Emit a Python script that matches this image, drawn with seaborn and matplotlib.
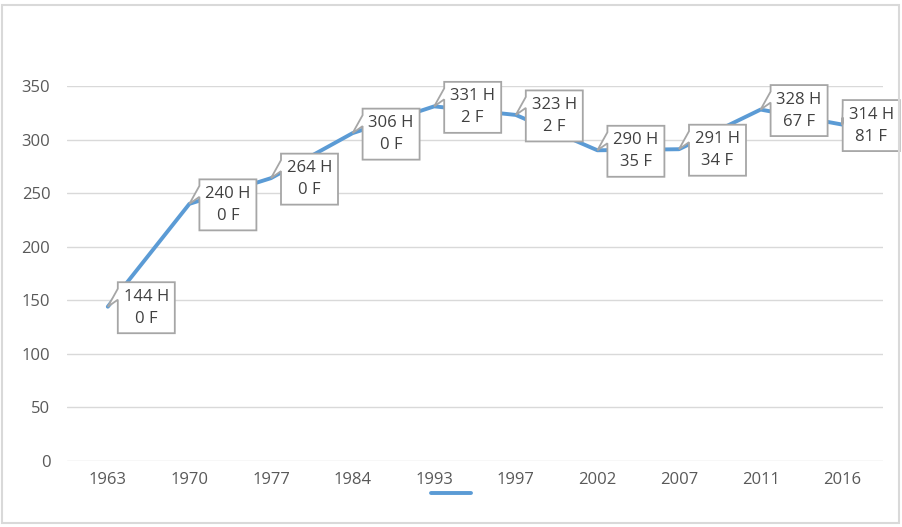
import numpy as np
import pandas as pd
import matplotlib
matplotlib.use("Agg")
import matplotlib.pyplot as plt
import seaborn as sns
from matplotlib.patches import Rectangle, Polygon
from matplotlib.transforms import Affine2D, ScaledTranslation

years = ["1963", "1970", "1977", "1984", "1993", "1997", "2002", "2007", "2011", "2016"]
hommes = [144, 240, 264, 306, 331, 323, 290, 291, 328, 314]
femmes = [0, 0, 0, 0, 2, 2, 35, 34, 67, 81]

df = pd.DataFrame({"year": years, "h": hommes, "f": femmes})
df["pos"] = np.arange(len(df))

sns.set_theme(style="white")
plt.rcParams["font.family"] = ["Open Sans", "DejaVu Sans"]

blue = "#5B9BD5"
grey_txt = "#595959"
grid_c = "#d9d9d9"
box_c = "#a6a6a6"

fig = plt.figure(figsize=(9.02, 5.27), dpi=100)
ax = fig.add_axes([67 / 902, 1 - 461 / 527, (883 - 67) / 902, (461 - 86) / 527])

sns.lineplot(data=df, x="pos", y="h", ax=ax, color=blue, lw=2.8)

ax.set_xlim(-0.5, len(df) - 0.5)
ax.set_ylim(0, 350)
ax.set_yticks(range(0, 351, 50))
ax.set_xticks(df["pos"])
ax.set_xticklabels(years)
ax.yaxis.grid(True, color=grid_c, lw=1)
ax.set_axisbelow(True)
for s in ax.spines.values():
    s.set_visible(False)
ax.tick_params(axis="y", length=0, pad=12, labelsize=12, labelcolor=grey_txt)
ax.tick_params(axis="x", length=0, pad=8, labelsize=12, labelcolor=grey_txt)
ax.set_xlabel("")
ax.set_ylabel("")

# callout labels (shape in pixels, anchored on each data point)
box_dx = [38.5] * 9 + [29]
hw, hh = 28.5, 25.5
for i, row in df.iterrows():
    bx, by = box_dx[i], -1
    left = bx - hw
    shape = [(left, by + hh), (bx + hw, by + hh), (bx + hw, by - hh), (left, by - hh),
             (left, by + 8), (0, 0), (left, by + 19)]
    tr = Affine2D() + ScaledTranslation(row["pos"], row["h"], ax.transData)
    ax.add_patch(Polygon(shape, closed=True, transform=tr, fc="white", ec=box_c,
                         lw=1.3, zorder=4, clip_on=False))
    ax.annotate(f"{row['h']} H\n{row['f']} F",
                xy=(row["pos"], row["h"]), xytext=(bx, by),
                textcoords="offset pixels", ha="center", va="center",
                fontsize=12, color="#404040", linespacing=1.5,
                annotation_clip=False, zorder=5)

# legend: line only, no text
ax.legend(handles=[ax.lines[0]], labels=[""], loc="center", bbox_to_anchor=(0.5, 0.061),
          bbox_transform=fig.transFigure, frameon=False, handlelength=2.6,
          handletextpad=0, borderpad=0)

fig.patches.append(Rectangle((2 / 902, 4 / 527), 897 / 902, 518 / 527, transform=fig.transFigure,
                             fill=False, ec=grid_c, lw=1.5))

fig.savefig("out.png", dpi=100)
